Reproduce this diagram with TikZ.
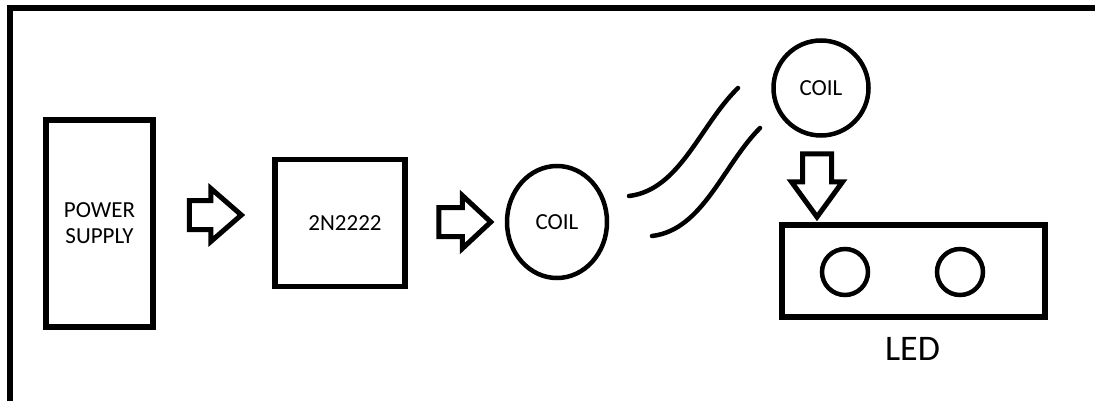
\documentclass[tikz,border=0pt]{standalone}
\usepackage{fontspec}
\setmainfont{Carlito}
\usetikzlibrary{shapes.geometric,shapes.arrows}

\begin{document}
\begin{tikzpicture}[x=1pt,y=-1pt,draw=black,text=black,
  blk/.style={draw,line width=5.5pt,inner sep=0pt,align=center,
    font=\fontsize{23}{26}\selectfont},
  coil/.style={draw,ellipse,line width=4.5pt,inner sep=0pt,
    font=\fontsize{23}{26}\selectfont},
  barrow/.style={draw,single arrow,line width=5pt,inner sep=12pt,
    minimum height=52pt,minimum width=48pt,
    single arrow head extend=12pt,single arrow tip angle=82},
  wave/.style={line width=4.5pt,line cap=round}]
  \useasboundingbox (0,0) rectangle (1095,401);

  % frame
  \draw[line width=6pt] (9.5,410) -- (9.5,8) -- (1100,8);

  % chain
  \node[blk,minimum width=107pt,minimum height=207pt] (psu) at (99.5,223.5) {POWER\\SUPPLY};
  \node[barrow] (arr1) at (207,215) {};
  \node[blk,minimum width=130pt,minimum height=127pt] (trans) at (340,223) {\hspace*{10pt}2N2222};
  \node[barrow,single arrow tip angle=86] (arr2) at (457,222) {};
  \node[coil,minimum width=100pt,minimum height=112pt] (coilA) at (557,222) {COIL};

  % waves
  \draw[wave] (629,196) .. controls (680,190) and (700,125) .. (738,88);
  \draw[wave] (652,236) .. controls (703,230) and (723,165) .. (760,128);

  % receiver
  \node[coil,circle,minimum size=95pt] (coilB) at (821,88) {COIL};
  \node[barrow,shape border rotate=270,minimum height=63pt,minimum width=47pt,
    single arrow head extend=11pt,single arrow tip angle=72] (arr3) at (817,175.5) {};
  \node[blk,minimum width=263pt,minimum height=92pt] (led) at (913.5,271) {};
  \node[draw,circle,line width=4.5pt,minimum size=46pt,inner sep=0pt] (ledA) at (845,272) {};
  \node[draw,circle,line width=4.5pt,minimum size=46pt,inner sep=0pt] (ledB) at (960,272) {};
  \node[font=\fontsize{36}{40}\selectfont] (ledlbl) at (912.5,348.5) {LED};
\end{tikzpicture}
\end{document}
